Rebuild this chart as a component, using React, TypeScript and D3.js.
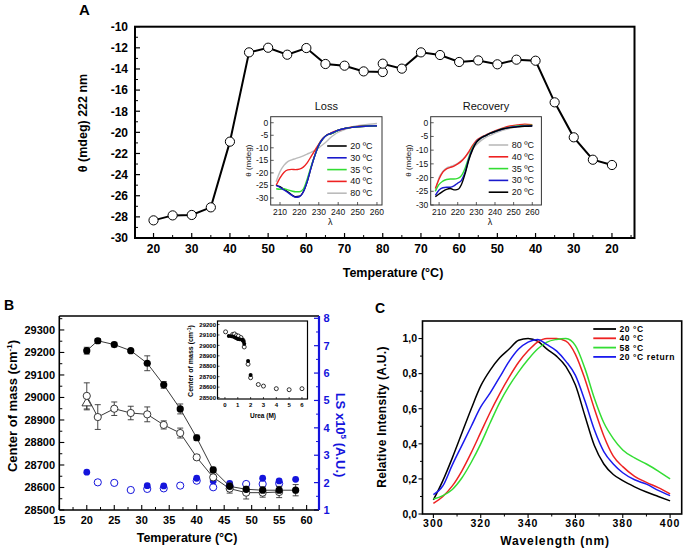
import React from "react";
import * as d3 from "d3";

// ---------- Panel A data ----------
const aLossTemps = [20, 25, 30, 35, 40, 45, 50, 55, 60, 65, 70, 75, 80];
const aLossTheta = [-28.33, -27.86, -27.82, -27.1, -20.88, -12.43, -11.99, -12.65, -12.02, -13.53, -13.69, -14.23, -14.29];
const aRecTemps = [80, 75, 70, 65, 60, 55, 50, 45, 40, 35, 30, 25, 20];
const aRecTheta = [-13.5, -13.97, -12.43, -12.68, -13.34, -13.19, -13.56, -13.12, -13.22, -17.16, -20.47, -22.59, -23.09];
const aTickLabels = ["20", "30", "40", "50", "60", "70", "80", "70", "60", "50", "40", "30", "20"];

// CD spectra (insets)
const cdWl = [208, 210, 212, 214, 216, 218, 220, 222, 224, 226, 228, 230, 232, 234, 236, 238, 240, 244, 248, 252, 256, 260];
const lossLabels = ["20 ºC", "30 ºC", "35 ºC", "40 ºC", "80 ºC"];
const lossColors = ["#000000", "#1a1acc", "#33dd33", "#ee2222", "#bbbbbb"];
const loss20 = [-25, -25.5, -26.5, -27.5, -28.7, -29.5, -29.3, -27.5, -23.5, -18, -13, -9, -6.5, -5, -4.5, -3.8, -3, -2.2, -1.8, -1.5, -1.3, -1.2];
const loss30 = [-25, -25.8, -26.8, -27.8, -28.9, -29.7, -29.5, -27.6, -23.5, -18, -13, -9, -6.5, -5, -4.3, -3.7, -3, -2.2, -1.8, -1.5, -1.3, -1.2];
const loss35 = [-26.3, -26.5, -26.3, -26.8, -27.2, -27.5, -27.5, -26.5, -22.5, -17.5, -13, -9, -6.5, -5, -4.4, -3.8, -3, -2.2, -1.8, -1.5, -1.3, -1.2];
const loss40 = [-25, -22, -19.8, -18.8, -18.6, -18.7, -18.5, -17.7, -16, -13.5, -11, -8.5, -6.3, -5, -4.2, -3.5, -3, -2.2, -1.7, -1.4, -1.3, -1.2];
const loss80 = [-23.5, -19.5, -17, -15.5, -14.8, -14.3, -13.8, -13.2, -12.5, -11.8, -11, -10, -8.8, -7.5, -6, -4.8, -3.8, -2.5, -1.5, -1, -0.6, -0.3];

const recLabels = ["80 ºC", "40 ºC", "35 ºC", "30 ºC", "20 ºC"];
const recColors = ["#bbbbbb", "#ee2222", "#33dd33", "#1a1acc", "#000000"];
const rec80 = [-25, -20, -17.8, -16.5, -16, -15.5, -14.8, -13.8, -12.5, -11, -9.5, -8, -6.8, -5.8, -5, -4.4, -3.8, -2.8, -2, -1.5, -1.2, -1];
const rec40 = [-24, -20.5, -18, -16.8, -16.3, -15.8, -15, -14, -12.5, -10.5, -8.3, -6.5, -5.5, -4.8, -4.2, -3.5, -3, -2, -1.2, -0.8, -0.5, -0.7];
const rec35 = [-25, -22.5, -21.3, -20.7, -20.5, -20.5, -20.3, -19.3, -16.5, -12.5, -9, -7, -5.8, -5, -4.3, -3.7, -3.2, -2.2, -1.6, -1.2, -1, -0.9];
const rec30 = [-26.5, -24.5, -23.7, -23.5, -23.5, -23, -22, -21, -18, -13, -9.5, -7, -5.8, -5, -4.3, -3.7, -3.2, -2.3, -1.7, -1.4, -1.2, -1.1];
const rec20 = [-27, -26, -25, -24.3, -24, -24.5, -24.3, -22.5, -18.5, -13.5, -9.8, -7.2, -5.8, -5, -4.3, -3.7, -3.2, -2.3, -1.8, -1.5, -1.3, -1.2];

// ---------- Panel B data ----------
const bTempsFilled = [20, 22, 25, 28, 31, 34, 37, 40, 43, 46, 49, 52, 55, 58];
const bCmFilled = [29208, 29252, 29235, 29208, 29152, 29056, 28949, 28821, 28678, 28605, 28592, 28588, 28588, 28588];
const bErrFilled = [15, 10, 10, 5, 33, 15, 22, 12, 12, 15, 10, 15, 15, 25];
const bTempsOpen = [20, 22, 25, 28, 31, 34, 37, 40, 43, 46, 49, 52, 55];
const bCmOpen = [29007, 28913, 28950, 28931, 28925, 28878, 28842, 28734, 28645, 28595, 28577, 28577, 28580];
const bErrOpen = [58, 55, 30, 30, 33, 18, 22, 10, 10, 20, 28, 20, 25];
const bTriTemp = [20];
const bTriCm = [28975];
const bTriErr = [30];
const bLsFilledT = [20, 31, 34, 40, 43, 46, 52, 55, 58];
const bLsFilled = [2.38, 1.89, 1.88, 2.16, 2.06, 1.97, 2.16, 2.06, 2.12];
const bLsOpenT = [22, 25, 28, 31, 34, 37, 40, 43, 46, 49, 52, 55];
const bLsOpen = [2.01, 1.99, 1.73, 1.77, 1.79, 1.89, 2.07, 1.83, 1.87, 1.95, 1.95, 1.97];

// inset B
const ureaOpen = [0.05, 0.6, 0.75, 0.9, 1.05, 1.25, 1.4, 1.5, 1.8, 2.0, 2.6, 3.0, 4.0, 5.0, 6.0];
const ureaOpenCm = [29130, 29105, 29110, 29095, 29090, 29075, 29050, 28985, 28820, 28690, 28625, 28610, 28585, 28575, 28585];
const ureaFilled = [0.3, 0.5, 0.7, 0.85, 1.0, 1.15, 1.35, 1.45, 1.5, 1.8, 2.0];
const ureaFilledCm = [29090, 29088, 29080, 29070, 29062, 29060, 29055, 29040, 29015, 28850, 28715];

// ---------- Panel C data ----------
const cWl = [300, 304, 308, 312, 316, 320, 324, 328, 332, 336, 340, 344, 348, 352, 356, 360, 364, 368, 372, 376, 380, 385, 390, 395, 400];
const c20 = [0.08, 0.19, 0.32, 0.46, 0.6, 0.73, 0.82, 0.89, 0.94, 0.99, 1.0, 0.985, 0.94, 0.9, 0.84, 0.735, 0.56, 0.39, 0.285, 0.225, 0.19, 0.155, 0.125, 0.1, 0.075];
const c40 = [0.06, 0.1, 0.16, 0.245, 0.35, 0.465, 0.58, 0.685, 0.78, 0.865, 0.93, 0.98, 1.0, 1.0, 0.985, 0.91, 0.77, 0.6, 0.445, 0.33, 0.27, 0.215, 0.18, 0.15, 0.115];
const c58 = [0.085, 0.105, 0.14, 0.205, 0.295, 0.4, 0.52, 0.635, 0.73, 0.81, 0.88, 0.94, 0.98, 0.995, 1.0, 0.96, 0.83, 0.66, 0.52, 0.43, 0.365, 0.32, 0.285, 0.245, 0.2];
const c20r = [0.11, 0.16, 0.28, 0.39, 0.5, 0.61, 0.69, 0.78, 0.87, 0.94, 0.98, 0.995, 0.965, 0.93, 0.87, 0.79, 0.645, 0.48, 0.356, 0.285, 0.235, 0.195, 0.17, 0.135, 0.105];
const cLabels = ["20 °C", "40 °C", "58 °C", "20 °C return"];
const cColors = ["#000000", "#ee2222", "#33dd33", "#1a1aee"];

const FONT = "'Liberation Sans', Arial, Helvetica, sans-serif";
const BLUE = "#1414dc";

type Box = { left: number; right: number; top: number; bottom: number };

function CDInset(props: {
  box: Box; xDomain: [number, number]; yDomain: [number, number]; title: string;
  series: number[][]; labels: string[]; colors: string[]; drawOrder: number[];
  legendDx: number; legendDy: number;
}) {
  const { box, xDomain, yDomain, title, series, labels, colors, drawOrder, legendDx, legendDy } = props;
  const x = d3.scaleLinear().domain(xDomain).range([box.left, box.right]);
  const y = d3.scaleLinear().domain(yDomain).range([box.bottom, box.top]);
  const line = d3.line<number>().x((_, i) => x(cdWl[i])).y((d) => y(d)).curve(d3.curveMonotoneX);
  const yT = d3.range(0, -31, -5);
  const xT = d3.range(210, 261, 10);
  return (
    <g fontFamily={FONT}>
      <rect x={box.left} y={box.top} width={box.right - box.left} height={box.bottom - box.top} fill="white" stroke="#333" strokeWidth={1} />
      <text x={(box.left + box.right) / 2} y={box.top - 7} textAnchor="middle" fontSize={11} fill="#111">{title}</text>
      {yT.map((t) => (
        <g key={"y" + t}>
          <line x1={box.left} x2={box.left + 3} y1={y(t)} y2={y(t)} stroke="#333" strokeWidth={0.8} />
          <text x={box.left - 2.5} y={y(t) + 3} textAnchor="end" fontSize={8.5} fill="#111">{t}</text>
        </g>
      ))}
      {xT.map((t) => (
        <g key={"x" + t}>
          <line x1={x(t)} x2={x(t)} y1={box.bottom} y2={box.bottom - 3} stroke="#333" strokeWidth={0.8} />
          <text x={x(t)} y={box.bottom + 10} textAnchor="middle" fontSize={8.5} fill="#111">{t}</text>
        </g>
      ))}
      <text transform={`translate(${box.left - 20},${box.top + 44}) rotate(-90)`} textAnchor="middle" fontSize={8} fill="#111">θ (mdeg)</text>
      <text x={(box.left + box.right) / 2 + 4} y={box.bottom + 20} textAnchor="middle" fontSize={9} fill="#111">λ</text>
      {drawOrder.map((k) => (
        <path key={"c" + k} d={line(series[k]) || ""} fill="none" stroke={colors[k]} strokeWidth={1.4} />
      ))}
      {labels.map((l, k) => {
        const yy = box.top + legendDy + k * 11.8;
        return (
          <g key={"l" + k}>
            <line x1={box.left + legendDx} x2={box.left + legendDx + 19.5} y1={yy} y2={yy} stroke={colors[k]} strokeWidth={1.6} />
            <text x={box.left + legendDx + 23} y={yy + 3} fontSize={9} fill="#111">{l}</text>
          </g>
        );
      })}
    </g>
  );
}

function PanelA() {
  const A: Box = { left: 135, right: 634.5, top: 26.7, bottom: 238 };
  const x = d3.scaleLinear().domain([-0.97, 25.18]).range([A.left, A.right]);
  const y = d3.scaleLinear().domain([-30, -10]).range([A.bottom, A.top]);
  const pts = [
    ...aLossTemps.map((t, i) => ({ i: (t - 20) / 5, v: aLossTheta[i] })),
    ...aRecTemps.map((t, k) => ({ i: 12 + (80 - t) / 5, v: aRecTheta[k] })),
  ];
  const line = d3.line<{ i: number; v: number }>().x((d) => x(d.i)).y((d) => y(d.v));
  const yMajor = d3.range(-30, -9, 2);
  const yMinor = d3.range(-29, -10, 2);
  const xMajor = d3.range(0, 25, 2);
  const xMinor = d3.range(1, 26, 2);
  return (
    <g fontFamily={FONT}>
      <text x={79} y={15} fontSize={15} fontWeight="bold">A</text>
      {yMajor.map((t) => (
        <g key={"ym" + t}>
          <line x1={A.left} x2={A.left + 5} y1={y(t)} y2={y(t)} stroke="black" strokeWidth={1.2} />
          <text x={A.left - 7} y={y(t) + 4.3} textAnchor="end" fontSize={12} fontWeight="bold">{t}</text>
        </g>
      ))}
      {yMinor.map((t) => (
        <line key={"yn" + t} x1={A.left} x2={A.left + 3} y1={y(t)} y2={y(t)} stroke="black" strokeWidth={1} />
      ))}
      {xMajor.map((t, k) => (
        <g key={"xm" + t}>
          <line x1={x(t)} x2={x(t)} y1={A.bottom} y2={A.bottom - 5} stroke="black" strokeWidth={1.2} />
          <text x={x(t)} y={A.bottom + 14.5} textAnchor="middle" fontSize={12} fontWeight="bold">{aTickLabels[k]}</text>
        </g>
      ))}
      {xMinor.map((t) => (
        <line key={"xn" + t} x1={x(t)} x2={x(t)} y1={A.bottom} y2={A.bottom - 3} stroke="black" strokeWidth={1} />
      ))}
      <rect x={A.left} y={A.top} width={A.right - A.left} height={A.bottom - A.top} fill="none" stroke="black" strokeWidth={2} />
      <text transform={`translate(${87},${123}) rotate(-90)`} textAnchor="middle" fontSize={12.5} fontWeight="bold">θ (mdeg)  222 nm</text>
      <text x={393} y={277} textAnchor="middle" fontSize={12.5} fontWeight="bold">Temperature (°C)</text>
      <path d={line(pts) || ""} fill="none" stroke="black" strokeWidth={2} />
      {pts.map((p, k) => (
        <circle key={"p" + k} cx={x(p.i)} cy={y(p.v)} r={4.6} fill="white" stroke="black" strokeWidth={1} />
      ))}
      <CDInset box={{ left: 270.7, right: 382, top: 116.7, bottom: 205 }} xDomain={[205.2, 262.6]} yDomain={[-32.8, 2.4]}
        title="Loss" series={[loss20, loss30, loss35, loss40, loss80]} labels={lossLabels} colors={lossColors}
        drawOrder={[4, 3, 0, 2, 1]} legendDx={56.5} legendDy={29.3} />
      <CDInset box={{ left: 430.7, right: 541.4, top: 116.7, bottom: 205 }} xDomain={[205.5, 264.9]} yDomain={[-30, 2.2]}
        title="Recovery" series={[rec80, rec40, rec35, rec30, rec20]} labels={recLabels} colors={recColors}
        drawOrder={[0, 1, 2, 3, 4]} legendDx={58} legendDy={28.3} />
    </g>
  );
}

function ErrBar(props: { x: number; y1: number; y2: number }) {
  const { x, y1, y2 } = props;
  return (
    <g stroke="#333" strokeWidth={0.9}>
      <line x1={x} x2={x} y1={y1} y2={y2} />
      <line x1={x - 3} x2={x + 3} y1={y1} y2={y1} />
      <line x1={x - 3} x2={x + 3} y1={y2} y2={y2} />
    </g>
  );
}

function PanelB() {
  const B: Box = { left: 59.3, right: 319, top: 316, bottom: 510 };
  const x = d3.scaleLinear().domain([15, 62.25]).range([B.left, B.right]);
  const y = d3.scaleLinear().domain([28500, 29362]).range([B.bottom, B.top]);
  const y2 = d3.scaleLinear().domain([1, 8.084]).range([B.bottom, B.top]);
  const lineF = d3.line<number>().x((_, i) => x(bTempsFilled[i])).y((d) => y(d));
  const lineO = d3.line<number>().x((_, i) => x(bTempsOpen[i])).y((d) => y(d));
  const yMaj = d3.range(28500, 29301, 100);
  const yMin = d3.range(28550, 29351, 100);
  const xMaj = d3.range(15, 61, 5);
  const xMin = d3.range(17.5, 62, 5);
  const y2Maj = d3.range(1, 9, 1);
  const y2Min = d3.range(1.5, 8, 1);

  // inset
  const I: Box = { left: 217.5, right: 307.5, top: 321, bottom: 399 };
  const xi = d3.scaleLinear().domain([-0.58, 6.43]).range([I.left, I.right]);
  const yi = d3.scaleLinear().domain([28486, 29234]).range([I.bottom, I.top]);
  const yiT = d3.range(28500, 29201, 100);
  const xiT = d3.range(0, 7, 1);

  return (
    <g fontFamily={FONT}>
      <text x={4} y={310} fontSize={14} fontWeight="bold">B</text>
      {yMaj.map((t) => (
        <g key={"ym" + t}>
          <line x1={B.left} x2={B.left + 5} y1={y(t)} y2={y(t)} stroke="black" strokeWidth={1.1} />
          <text x={55} y={y(t) + 4} textAnchor="end" fontSize={11} fontWeight="bold">{t}</text>
        </g>
      ))}
      {yMin.map((t) => (
        <line key={"yn" + t} x1={B.left} x2={B.left + 3} y1={y(t)} y2={y(t)} stroke="black" strokeWidth={1} />
      ))}
      {xMaj.map((t) => (
        <g key={"xm" + t}>
          <line x1={x(t)} x2={x(t)} y1={B.bottom} y2={B.bottom - 5} stroke="black" strokeWidth={1.1} />
          <text x={x(t)} y={524} textAnchor="middle" fontSize={11} fontWeight="bold">{t}</text>
        </g>
      ))}
      {xMin.map((t) => (
        <line key={"xn" + t} x1={x(t)} x2={x(t)} y1={B.bottom} y2={B.bottom - 3} stroke="black" strokeWidth={1} />
      ))}
      {y2Maj.map((t) => (
        <g key={"y2m" + t}>
          <line x1={B.right} x2={B.right - 5} y1={y2(t)} y2={y2(t)} stroke={BLUE} strokeWidth={1.2} />
          <text x={323.5} y={y2(t) + 4} fontSize={11} fontWeight="bold" fill={BLUE}>{t}</text>
        </g>
      ))}
      {y2Min.map((t) => (
        <line key={"y2n" + t} x1={B.right} x2={B.right - 3} y1={y2(t)} y2={y2(t)} stroke={BLUE} strokeWidth={1} />
      ))}
      <line x1={B.left} x2={B.right} y1={B.top} y2={B.top} stroke="black" strokeWidth={1.6} />
      <line x1={B.left} x2={B.left} y1={B.top} y2={B.bottom} stroke="black" strokeWidth={1.6} />
      <line x1={B.left} x2={B.right} y1={B.bottom} y2={B.bottom} stroke="black" strokeWidth={1.6} />
      <line x1={B.right} x2={B.right} y1={B.top} y2={B.bottom} stroke={BLUE} strokeWidth={2.2} />
      <text transform={`translate(${17},${406}) rotate(-90)`} textAnchor="middle" fontSize={13} fontWeight="bold">
        Center of mass (cm<tspan dy={-5} fontSize={8}>-1</tspan><tspan dy={5}>)</tspan>
      </text>
      <text transform={`translate(${336},${435}) rotate(90)`} textAnchor="middle" fontSize={13} fontWeight="bold" fill={BLUE}>
        LS x10<tspan dy={-5} fontSize={8}>5</tspan><tspan dy={5}> (A.U.)</tspan>
      </text>
      <text x={187} y={542} textAnchor="middle" fontSize={12.5} fontWeight="bold">Temperature (°C)</text>

      {/* LS blue markers */}
      {bLsOpenT.map((t, i) => (
        <circle key={"lo" + i} cx={x(t)} cy={y2(bLsOpen[i])} r={3.6} fill="white" stroke={BLUE} strokeWidth={1} />
      ))}
      {bLsFilledT.map((t, i) => (
        <circle key={"lf" + i} cx={x(t)} cy={y2(bLsFilled[i])} r={3.4} fill={BLUE} />
      ))}

      {/* Center of mass */}
      <path d={lineF(bCmFilled) || ""} fill="none" stroke="#222" strokeWidth={0.9} />
      <path d={lineO(bCmOpen) || ""} fill="none" stroke="#222" strokeWidth={0.9} />
      {bTempsOpen.map((t, i) => (
        <ErrBar key={"eo" + i} x={x(t)} y1={y(bCmOpen[i] - bErrOpen[i])} y2={y(bCmOpen[i] + bErrOpen[i])} />
      ))}
      {bTempsFilled.map((t, i) => (
        <ErrBar key={"ef" + i} x={x(t)} y1={y(bCmFilled[i] - bErrFilled[i])} y2={y(bCmFilled[i] + bErrFilled[i])} />
      ))}
      {bTriTemp.map((t, i) => (
        <g key={"tr" + i}>
          <ErrBar x={x(t)} y1={y(bTriCm[i] - bTriErr[i])} y2={y(bTriCm[i] + bTriErr[i])} />
          <path d={d3.symbol(d3.symbolTriangle, 40)() || ""} transform={`translate(${x(t)},${y(bTriCm[i])})`} fill="white" stroke="#222" strokeWidth={0.9} />
        </g>
      ))}
      {bTempsOpen.map((t, i) => (
        <circle key={"co" + i} cx={x(t)} cy={y(bCmOpen[i])} r={3.6} fill="white" stroke="#222" strokeWidth={0.9} />
      ))}
      {bTempsFilled.map((t, i) => (
        <circle key={"cf" + i} cx={x(t)} cy={y(bCmFilled[i])} r={3.6} fill="black" />
      ))}

      {/* inset */}
      <rect x={I.left} y={I.top} width={I.right - I.left} height={I.bottom - I.top} fill="white" stroke="black" strokeWidth={1.2} />
      {yiT.map((t) => (
        <g key={"yi" + t}>
          <line x1={I.left} x2={I.left + 2} y1={yi(t)} y2={yi(t)} stroke="black" strokeWidth={0.7} />
          <text x={I.left - 1.5} y={yi(t) + 2.2} textAnchor="end" fontSize={6} fontWeight="bold">{t}</text>
        </g>
      ))}
      {xiT.map((t) => (
        <g key={"xi" + t}>
          <line x1={xi(t)} x2={xi(t)} y1={I.bottom} y2={I.bottom - 2} stroke="black" strokeWidth={0.7} />
          <text x={xi(t)} y={I.bottom + 8} textAnchor="middle" fontSize={6} fontWeight="bold">{t}</text>
        </g>
      ))}
      <text x={263} y={418} textAnchor="middle" fontSize={6.5} fontWeight="bold">Urea (M)</text>
      <text transform={`translate(${193},${361}) rotate(-90)`} textAnchor="middle" fontSize={7} fontWeight="bold">
        Center of mass (cm<tspan dy={-2.5} fontSize={5}>-1</tspan><tspan dy={2.5}>)</tspan>
      </text>
      {ureaOpen.map((u, i) => (
        <circle key={"uo" + i} cx={xi(u)} cy={yi(ureaOpenCm[i])} r={2} fill="white" stroke="black" strokeWidth={0.8} />
      ))}
      {ureaFilled.map((u, i) => (
        <circle key={"uf" + i} cx={xi(u)} cy={yi(ureaFilledCm[i])} r={2} fill="black" />
      ))}
    </g>
  );
}

function PanelC() {
  const C: Box = { left: 422.5, right: 681.7, top: 321, bottom: 514 };
  const x = d3.scaleLinear().domain([295.4, 404.9]).range([C.left, C.right]);
  const y = d3.scaleLinear().domain([0, 1.1]).range([C.bottom, C.top]);
  const line = d3.line<number>().x((_, i) => x(cWl[i])).y((d) => y(d)).curve(d3.curveMonotoneX);
  const yMaj = d3.range(0, 1.01, 0.2);
  const yMin = d3.range(0.1, 1.1, 0.2);
  const xMaj = d3.range(300, 401, 20);
  const xMin = d3.range(310, 401, 20);
  const series = [c20, c40, c58, c20r];
  const fmt = (v: number) => v.toFixed(1).replace(".", ",");
  return (
    <g fontFamily={FONT}>
      <text x={375} y={313} fontSize={14} fontWeight="bold">C</text>
      {yMaj.map((t) => (
        <g key={"ym" + t}>
          <line x1={C.left} x2={C.left - 4} y1={y(t)} y2={y(t)} stroke="black" strokeWidth={1.1} />
          <text x={417} y={y(t) + 3.8} textAnchor="end" fontSize={10.5} fontWeight="bold">{fmt(t)}</text>
        </g>
      ))}
      {yMin.map((t) => (
        <line key={"yn" + t} x1={C.left} x2={C.left - 2.5} y1={y(t)} y2={y(t)} stroke="black" strokeWidth={1} />
      ))}
      {xMaj.map((t) => (
        <g key={"xm" + t}>
          <line x1={x(t)} x2={x(t)} y1={C.bottom} y2={C.bottom + 4} stroke="black" strokeWidth={1.1} />
          <text x={x(t)} y={527} textAnchor="middle" fontSize={10.5} fontWeight="bold" letterSpacing={1}>{t}</text>
        </g>
      ))}
      {xMin.map((t) => (
        <line key={"xn" + t} x1={x(t)} x2={x(t)} y1={C.bottom} y2={C.bottom + 2.5} stroke="black" strokeWidth={1} />
      ))}
      <rect x={C.left} y={C.top} width={C.right - C.left} height={C.bottom - C.top} fill="none" stroke="black" strokeWidth={1.6} />
      <text transform={`translate(${386},${417}) rotate(-90)`} textAnchor="middle" fontSize={12} fontWeight="bold" letterSpacing={0.3}>Relative Intensity (A.U.)</text>
      <text x={555} y={545} textAnchor="middle" fontSize={12} fontWeight="bold" letterSpacing={0.9}>Wavelength (nm)</text>
      {series.map((s, k) => (
        <path key={"s" + k} d={line(s) || ""} fill="none" stroke={cColors[k]} strokeWidth={1.5} />
      ))}
      {cLabels.map((l, k) => {
        const yy = 329 + k * 9.3;
        return (
          <g key={"lg" + k}>
            <line x1={593.3} x2={616} y1={yy} y2={yy} stroke={cColors[k]} strokeWidth={1.8} />
            <text x={619.5} y={yy + 3} fontSize={8.5} fontWeight="bold" letterSpacing={0.6}>{l}</text>
          </g>
        );
      })}
    </g>
  );
}

export default function App() {
  return (
    <svg width={686} height={551} style={{ position: "absolute", left: 0, top: 0, display: "block", background: "white" }}>
      <rect x={0} y={0} width={686} height={551} fill="white" />
      <PanelA />
      <PanelB />
      <PanelC />
    </svg>
  );
}
